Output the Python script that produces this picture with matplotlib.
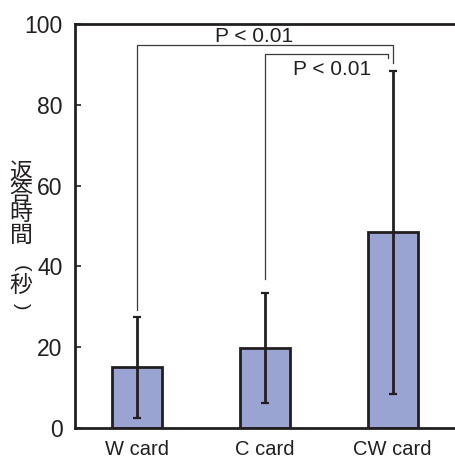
import matplotlib
matplotlib.use("Agg")
import matplotlib.pyplot as plt

# response time per card type (mean and SD, seconds)
labels = ["W card", "C card", "CW card"]
means = [15.0, 19.7, 48.4]
sds = [12.5, 13.6, 40.0]

# significance brackets: (left bar, right bar, bracket height, left leg end, right leg end)
brackets = [
    (0, 2, 94.8, 29.2, 90.3),
    (1, 2, 92.6, 36.9, 91.5),
]
p_text = "P < 0.01"
ylabel_chars = ["返", "答", "時", "間", "(", "秒", ")"]

plt.rcParams["font.family"] = ["Liberation Sans", "DejaVu Sans"]

fig = plt.figure(figsize=(4.56, 4.61), dpi=100)
ax = fig.add_axes([0.1645, 0.0716, 0.8355, 0.8764])

x = range(len(labels))
ax.bar(x, means, width=0.39, color="#99a4d3", edgecolor="#231f20",
       linewidth=2.0, zorder=2)
ax.errorbar(x, means, yerr=sds, fmt="none", ecolor="#231f20",
            elinewidth=2.0, capsize=3, capthick=1.6, zorder=3)

# bracket lines for the pairwise tests
for i, j, h, yl, yr in brackets:
    off = 0.04 if i == 1 else 0.0
    ax.plot([i, i, j - off, j - off], [yl, h, h, yr], color="#3a3a3a",
            linewidth=0.9, zorder=1, clip_on=False)

ax.text(0.915, 94.6, p_text, ha="center", va="bottom", fontsize=15,
        color="#231f20")
ax.text(1.525, 86.3, p_text, ha="center", va="bottom", fontsize=15,
        color="#231f20")

ax.set_xlim(-0.486, 2.496)
ax.set_ylim(0, 100)
ax.set_yticks([0, 20, 40, 60, 80, 100])
ax.set_xticks(list(x))
ax.set_xticklabels(labels, fontsize=14.5, color="#231f20")
ax.tick_params(axis="x", length=0, pad=9)
ax.tick_params(axis="y", direction="in", length=4, width=1.2,
               labelsize=16.5, pad=9, color="#231f20", labelcolor="#231f20")

ax.spines["right"].set_visible(False)
for s in ["left", "top", "bottom"]:
    ax.spines[s].set_linewidth(2.0)
    ax.spines[s].set_color("#231f20")

# vertical y-axis title, one character per line; parentheses turned sideways
ys = [172, 193, 214, 235, 268, 285, 306]
for ch, yp in zip(ylabel_chars, ys):
    if ch in "()":
        fig.text(21 / 456, 1 - yp / 461, ch, ha="center", va="center",
                 fontsize=14, color="#231f20", rotation=-90,
                 family=["Liberation Sans"])
    else:
        fig.text(21 / 456, 1 - yp / 461, ch, ha="center", va="center",
                 fontsize=16.5, color="#231f20",
                 family=["Noto Sans CJK JP", "DejaVu Sans"])

fig.savefig("out.png", dpi=100)
